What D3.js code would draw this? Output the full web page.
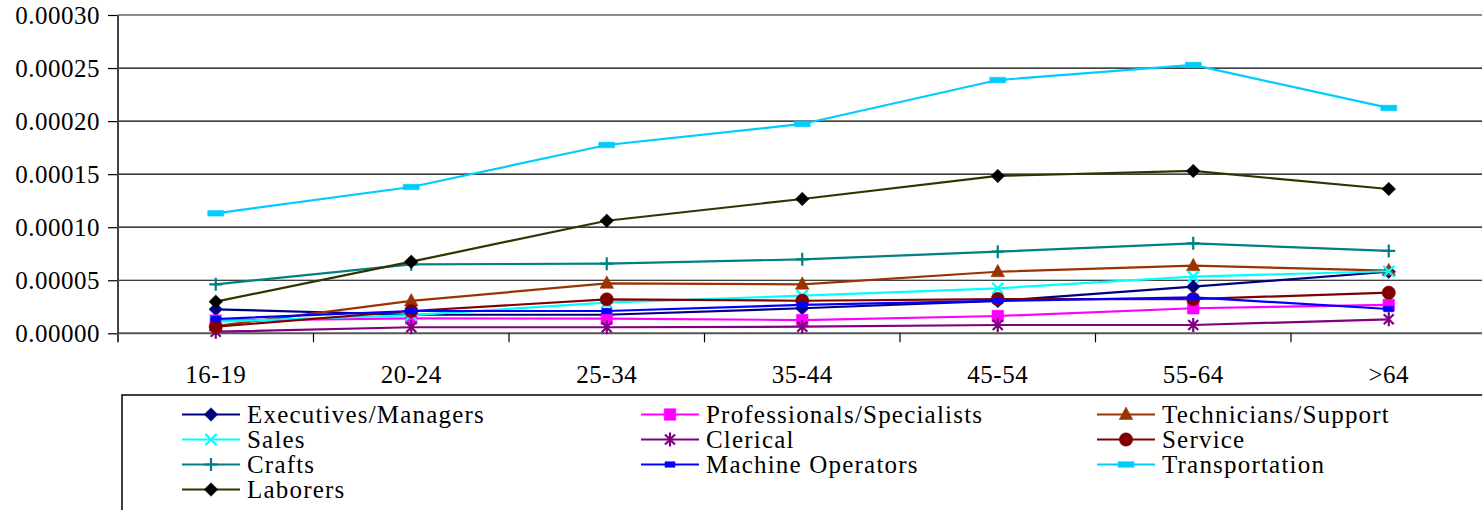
<!DOCTYPE html>
<html>
<head>
<meta charset="utf-8">
<script src="https://cdn.jsdelivr.net/npm/d3@7"></script>
<style>
  html, body { margin: 0; padding: 0; background: #fff; }
  svg { display: block; }
  text { font-family: "Liberation Serif", "Times New Roman", serif; fill: #000; }
</style>
</head>
<body>
<svg id="chart" width="1482" height="510"></svg>
<script>
// Age groups along the x axis
const ageGroups = ["16-19", "20-24", "25-34", "35-44", "45-54", "55-64", ">64"];

// Y axis tick values
const yTicks = [0, 0.00005, 0.0001, 0.00015, 0.0002, 0.00025, 0.0003];

// Occupation rates by age group
const executives    = [0.0000226, 0.0000175, 0.0000175, 0.0000236, 0.0000305, 0.0000439, 0.0000580];
const professionals = [0.0000120, 0.0000141, 0.0000138, 0.0000125, 0.0000163, 0.0000236, 0.0000267];
const technicians   = [0.0000068, 0.0000305, 0.0000471, 0.0000462, 0.0000580, 0.0000637, 0.0000590];
const sales         = [0.0000110, 0.0000172, 0.0000289, 0.0000355, 0.0000424, 0.0000534, 0.0000585];
const clerical      = [0.0000015, 0.0000057, 0.0000057, 0.0000062, 0.0000078, 0.0000078, 0.0000132];
const service       = [0.0000062, 0.0000210, 0.0000320, 0.0000307, 0.0000323, 0.0000323, 0.0000383];
const crafts        = [0.0000462, 0.0000650, 0.0000656, 0.0000697, 0.0000769, 0.0000848, 0.0000776];
const machineOps    = [0.0000135, 0.0000210, 0.0000210, 0.0000267, 0.0000305, 0.0000339, 0.0000229];
const transport     = [0.0001131, 0.0001379, 0.0001775, 0.0001973, 0.0002387, 0.0002529, 0.0002124];
const laborers      = [0.0000298, 0.0000675, 0.0001061, 0.0001266, 0.0001483, 0.0001530, 0.0001360];

const seriesNames = ["Executives/Managers", "Professionals/Specialists", "Technicians/Support",
                     "Sales", "Clerical", "Service", "Crafts", "Machine Operators",
                     "Transportation", "Laborers"];
const seriesValues = [executives, professionals, technicians, sales, clerical, service,
                      crafts, machineOps, transport, laborers];

// Line colour, marker shape, marker colour for each series
const styles = [
  { line: "#000080", marker: "diamond",  color: "#000080" },
  { line: "#FF00FF", marker: "square",   color: "#FF00FF" },
  { line: "#993300", marker: "triangle", color: "#993300" },
  { line: "#00FFFF", marker: "times",    color: "#00FFFF" },
  { line: "#800080", marker: "asterisk", color: "#800080" },
  { line: "#800000", marker: "circle",   color: "#800000" },
  { line: "#008080", marker: "plus",     color: "#008080" },
  { line: "#0000FF", marker: "smallbar", color: "#0000FF" },
  { line: "#00CCFF", marker: "widebar",  color: "#00CCFF" },
  { line: "#333300", marker: "diamond",  color: "#000000" }
];

const FONT = "Liberation Serif, Times New Roman, serif";

const svg = d3.select("#chart");

const plot = { left: 118, top: 15, bottom: 333.3, step: 195.5 };

const x = d3.scaleBand()
  .domain(ageGroups)
  .range([plot.left, plot.left + plot.step * ageGroups.length])
  .paddingInner(0).paddingOuter(0);
const cx = d => x(d) + x.bandwidth() / 2;

const y = d3.scaleLinear()
  .domain([0, 0.0003])
  .range([plot.bottom, plot.top]);

const plotRight = x.range()[1];

// Horizontal gridlines
svg.append("g")
  .selectAll("line")
  .data(yTicks.filter(t => t > 0 && t < 0.0003))
  .join("line")
  .attr("x1", plot.left).attr("x2", plotRight)
  .attr("y1", d => y(d)).attr("y2", d => y(d))
  .attr("stroke", "#000").attr("stroke-width", 1.2);

// Plot area top border
svg.append("line")
  .attr("x1", plot.left).attr("x2", plotRight)
  .attr("y1", y(0.0003)).attr("y2", y(0.0003))
  .attr("stroke", "#8c8c8c").attr("stroke-width", 2);

// Y axis
const yAxis = d3.axisLeft(y)
  .tickValues(yTicks)
  .tickFormat(d3.format(".5f"))
  .tickSize(10)
  .tickPadding(8);
const yg = svg.append("g")
  .attr("transform", `translate(${plot.left},0)`)
  .call(yAxis)
  .attr("font-family", FONT)
  .attr("font-size", 25);
yg.select(".domain").remove();
yg.selectAll(".tick line").attr("stroke", "#000").attr("stroke-width", 1.2);
yg.selectAll(".tick text")
  .attr("font-family", FONT)
  .attr("font-size", 25)
  .attr("letter-spacing", "0.5px")
  .attr("fill", "#000");

// X axis line
svg.append("line")
  .attr("x1", plot.left).attr("x2", plotRight)
  .attr("y1", plot.bottom).attr("y2", plot.bottom)
  .attr("stroke", "#555").attr("stroke-width", 2);

// Y axis line (runs down to the tick length)
svg.append("line")
  .attr("x1", plot.left).attr("x2", plot.left)
  .attr("y1", plot.top).attr("y2", plot.bottom + 9)
  .attr("stroke", "#444").attr("stroke-width", 2);

// X tick marks at category boundaries
const boundaries = ageGroups.slice(1).map(d => x(d)).concat([plotRight]);
svg.append("g")
  .selectAll("line")
  .data(boundaries)
  .join("line")
  .attr("x1", d => d).attr("x2", d => d)
  .attr("y1", plot.bottom).attr("y2", plot.bottom + 9)
  .attr("stroke", "#000").attr("stroke-width", 1.2);

// X tick labels
svg.append("g")
  .selectAll("text")
  .data(ageGroups)
  .join("text")
  .attr("x", d => cx(d))
  .attr("y", 383)
  .attr("text-anchor", "middle")
  .attr("font-family", FONT)
  .attr("font-size", 25)
  .attr("letter-spacing", "0.5px")
  .text(d => d);

// Marker path builder
function markerPath(kind) {
  switch (kind) {
    case "diamond":  return "M0,-6.8L6.8,0L0,6.8L-6.8,0Z";
    case "square":   return "M-5.8,-5.8H5.8V5.8H-5.8Z";
    case "triangle": return "M0,-7.5L6.8,5L-6.8,5Z";
    case "circle":   return d3.symbol(d3.symbolCircle, 140)();
    case "smallbar": return "M-5,-2.8H5V2.8H-5Z";
    case "widebar":  return "M-8,-2.8H8V2.8H-8Z";
    case "times":    return "M-5.5,-5.5L5.5,5.5M5.5,-5.5L-5.5,5.5";
    case "plus":     return "M-6.5,0H6.5M0,-6.5V6.5";
    case "asterisk": return "M-5,-5L5,5M5,-5L-5,5M0,-7V7";
  }
}
const strokeMarker = k => k === "times" || k === "plus" || k === "asterisk";

function drawMarker(g, kind, color) {
  const p = g.append("path").attr("d", markerPath(kind));
  if (strokeMarker(kind)) {
    p.attr("fill", "none").attr("stroke", color).attr("stroke-width", 2.2);
  } else {
    p.attr("fill", color).attr("stroke", color).attr("stroke-width", 0.5);
  }
}

// Series lines and markers
const line = d3.line()
  .x((d, i) => cx(ageGroups[i]))
  .y(d => y(d));

const seriesG = svg.append("g");
seriesValues.forEach((vals, si) => {
  const st = styles[si];
  const g = seriesG.append("g");
  g.append("path")
    .datum(vals)
    .attr("d", line)
    .attr("fill", "none")
    .attr("stroke", st.line)
    .attr("stroke-width", 2.2);
  vals.forEach((v, i) => {
    const mg = g.append("g").attr("transform", `translate(${cx(ageGroups[i])},${y(v)})`);
    drawMarker(mg, st.marker, st.color);
  });
});

// Legend box
const legend = svg.append("g");
legend.append("rect")
  .attr("x", 122).attr("y", 395)
  .attr("width", 1400).attr("height", 140)
  .attr("fill", "#fff").attr("stroke", "#000").attr("stroke-width", 1.5);

const colX = [182, 641, 1097];
const rowY = [414.5, 439.5, 464.5, 489.5];
seriesNames.forEach((name, i) => {
  const col = i % 3, row = Math.floor(i / 3);
  const lx = colX[col], ly = rowY[row];
  const st = styles[i];
  const item = legend.append("g");
  item.append("line")
    .attr("x1", lx).attr("x2", lx + 58)
    .attr("y1", ly).attr("y2", ly)
    .attr("stroke", st.line).attr("stroke-width", 2.2);
  const mg = item.append("g").attr("transform", `translate(${lx + 29},${ly})`);
  drawMarker(mg, st.marker, st.color);
  item.append("text")
    .attr("x", lx + 65)
    .attr("y", ly + 8.5)
    .attr("font-family", FONT)
    .attr("font-size", 25)
    .attr("letter-spacing", "1.2px")
    .text(name);
});
</script>
</body>
</html>
